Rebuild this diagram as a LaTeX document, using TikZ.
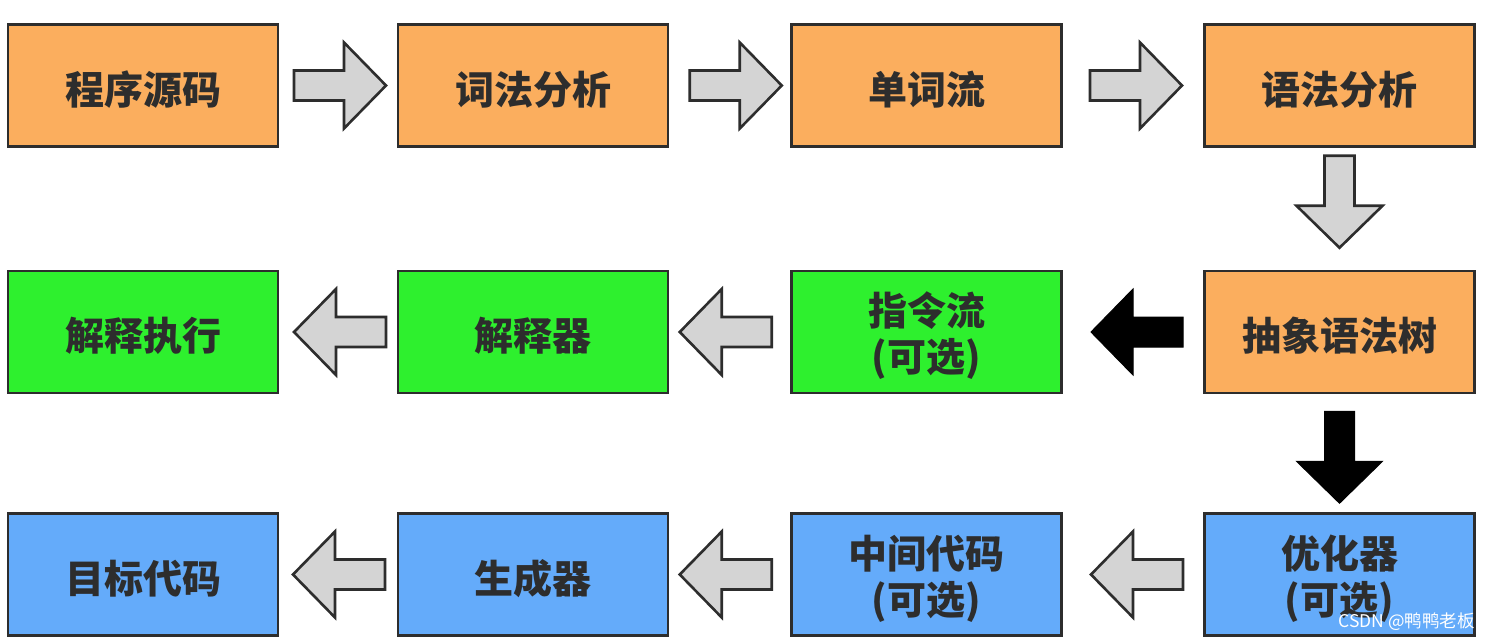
\documentclass[tikz,border=0pt]{standalone}
\usepackage{fontspec}
\newfontfamily\cjk{Noto Sans CJK SC}
\usetikzlibrary{calc}
\definecolor{boxorange}{RGB}{251,174,94}
\definecolor{boxgreen}{RGB}{46,240,46}
\definecolor{boxblue}{RGB}{100,171,250}
\definecolor{arrgray}{RGB}{212,212,212}
\definecolor{edge}{RGB}{45,45,45}
\definecolor{txt}{RGB}{45,45,45}
\tikzset{
  box/.style={draw=edge, line width=2.8pt, minimum width=270pt, minimum height=122pt,
    inner sep=0pt},
  lbl/.style={inner sep=0pt, align=center, text=txt, yshift=-4pt,
    font=\cjk\bfseries\fontsize{39}{46}\selectfont},
  orangebox/.style={box, fill=boxorange, label={[lbl]center:#1}},
  greenbox/.style={box, fill=boxgreen, label={[lbl]center:#1}},
  bluebox/.style={box, fill=boxblue, label={[lbl]center:#1}},
  blockarrow/.pic={\draw[pic actions] (-46,-15) -- (4,-15) -- (4,-43) -- (46,0) -- (4,43) -- (4,15) -- (-46,15) -- cycle;},
  grayarrow/.style={fill=arrgray, draw=edge, line width=2.6pt, line join=miter},
  blackarrow/.style={fill=black, draw=black, line width=1pt, line join=miter}
}
\begin{document}
\begin{tikzpicture}[x=1pt,y=-1pt]
\useasboundingbox (0,0) rectangle (1491,640);
\fill[white] (0,0) rectangle (1491,640);
% row 1
\node[orangebox={程序源码}] (src) at (143,85.5) {};
\node[orangebox={词法分析}] (lex) at (533,85.5) {};
\node[orangebox={单词流}] (tok) at (926.5,85.5) {};
\node[orangebox={语法分析}] (syn) at (1339.5,85.5) {};
% row 2
\node[greenbox={解释执行}] (exe) at (143,332) {};
\node[greenbox={解释器}] (itp) at (533,332) {};
\node[greenbox={指令流\\(可选)}] (ins) at (926.5,332) {};
\node[orangebox={抽象语法树}] (ast) at (1339.5,332) {};
% row 3
\node[bluebox={目标代码}] (tgt) at (143,574.5) {};
\node[bluebox={生成器}] (gen) at (533,574.5) {};
\node[bluebox={中间代码\\(可选)}] (mid) at (926.5,574.5) {};
\node[bluebox={优化器\\(可选)}] (opt) at (1339.5,574.5) {};
% arrows
\pic[grayarrow] at ($(src.east)!0.5!(lex.west)+(2,0)$) {blockarrow};
\pic[grayarrow] at ($(lex.east)!0.5!(tok.west)+(6,0)$) {blockarrow};
\pic[grayarrow] at ($(tok.east)!0.5!(syn.west)+(3,0)$) {blockarrow};
\pic[grayarrow, rotate=-90] at ($(syn.south)!0.5!(ast.north)+(0,-7)$) {blockarrow};
\pic[blackarrow, rotate=180] at ($(ins.east)!0.5!(ast.west)+(4,0)$) {blockarrow};
\pic[grayarrow, rotate=180] at ($(itp.east)!0.5!(ins.west)+(-4,0)$) {blockarrow};
\pic[grayarrow, rotate=180] at ($(exe.east)!0.5!(itp.west)+(2,0)$) {blockarrow};
\pic[blackarrow, rotate=-90] at ($(ast.south)!0.5!(opt.north)+(0,4)$) {blockarrow};
\pic[grayarrow, rotate=180] at ($(mid.east)!0.5!(opt.west)+(4,0)$) {blockarrow};
\pic[grayarrow, rotate=180] at ($(gen.east)!0.5!(mid.west)+(-4,0)$) {blockarrow};
\pic[grayarrow, rotate=180] at ($(tgt.east)!0.5!(gen.west)+(1,0)$) {blockarrow};
% watermark
\node[anchor=south east, inner sep=0pt, text=white, font=\cjk\fontsize{17.5}{19}\selectfont] (wm) at (1475,631) {CSDN @鸭鸭老板};
\end{tikzpicture}
\end{document}
